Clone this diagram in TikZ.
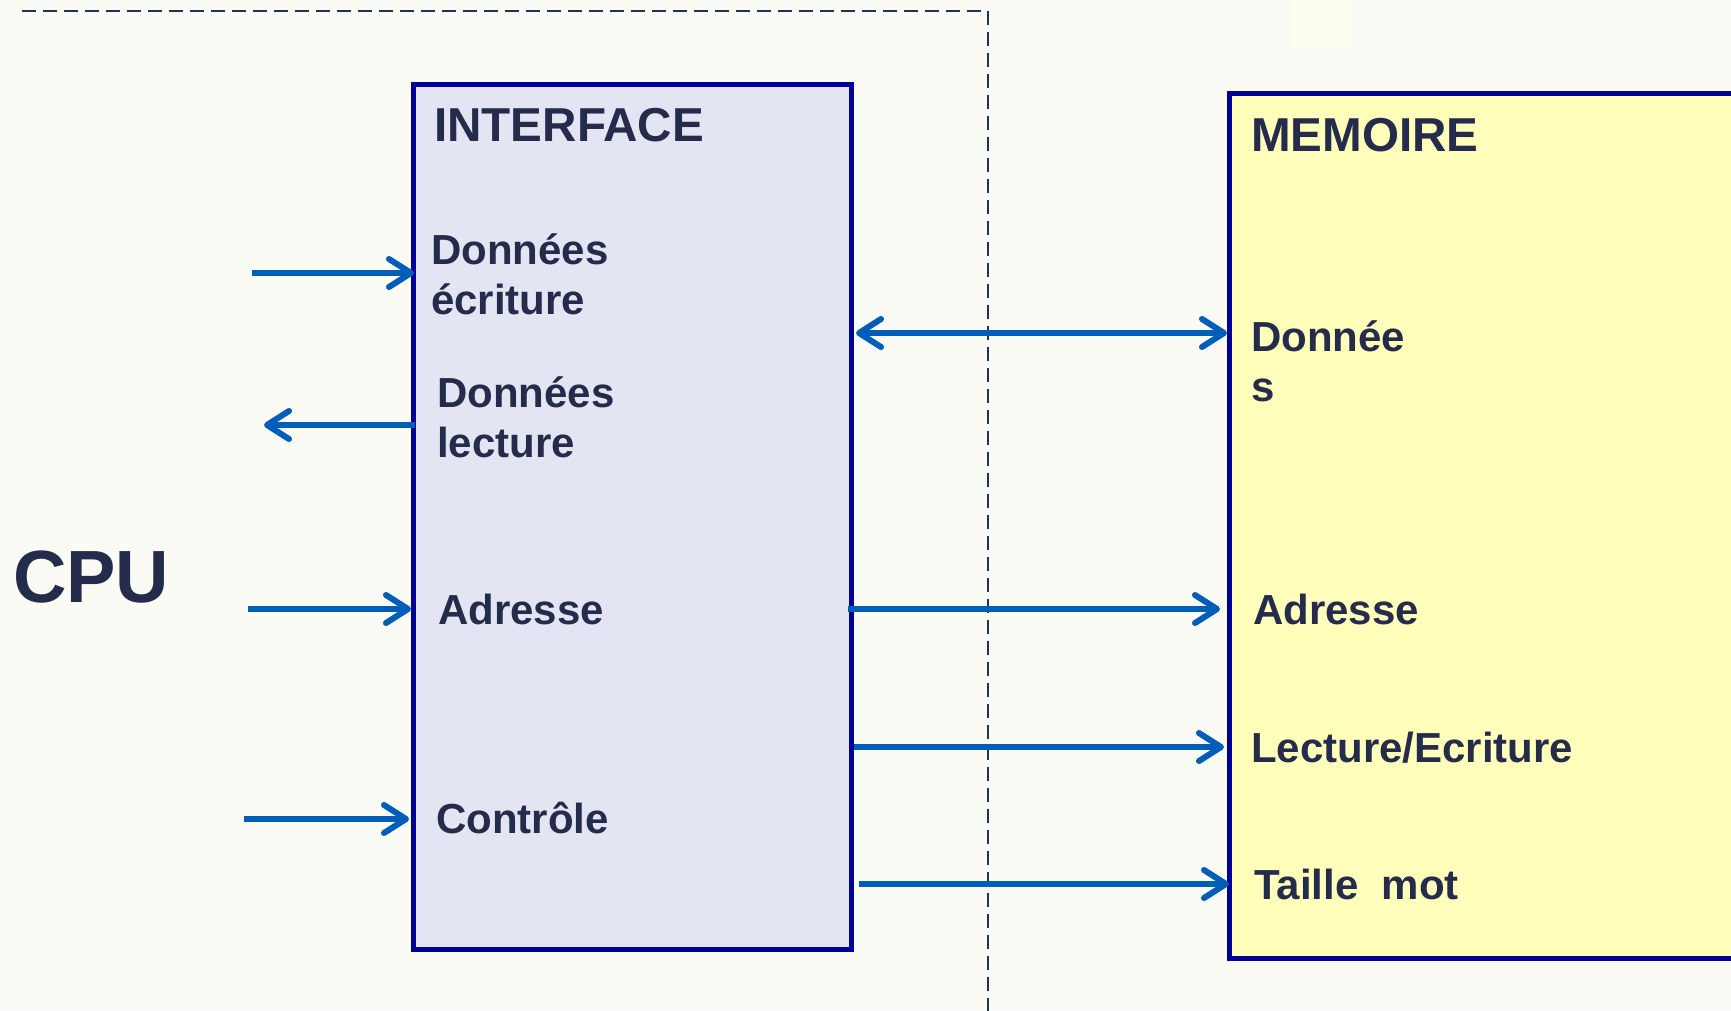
\documentclass[tikz,border=0pt]{standalone}
\usepackage{fontspec}
\setmainfont{Liberation Sans}
\usetikzlibrary{arrows.meta}

\definecolor{pagebg}{HTML}{FAFBF5}
\definecolor{ifacefill}{HTML}{E3E5F3}
\definecolor{memfill}{HTML}{FFFFBB}
\definecolor{boxedge}{HTML}{000099}
\definecolor{inktext}{HTML}{252B4A}
\definecolor{sigblue}{HTML}{005EB8}
\definecolor{rulenavy}{HTML}{1F3355}
\definecolor{creampatch}{HTML}{FEFEF0}

\tikzset{
  unitbox/.style={draw=boxedge, line width=5pt, rectangle, inner sep=0pt},
  lbl/.style={anchor=base west, inner sep=0pt, text=inktext,
              font=\fontsize{42}{50}\selectfont\bfseries, align=left},
  title/.style={anchor=base west, inner sep=0pt, text=inktext,
                font=\fontsize{47.6}{56}\selectfont\bfseries},
  sig/.style={draw=sigblue, line width=6pt,
              -{Straight Barb[length=22pt,width=28pt,round]}},
  sigboth/.style={draw=sigblue, line width=6pt,
              {Straight Barb[length=22pt,width=28pt,round]}-{Straight Barb[length=22pt,width=28pt,round]}},
  border/.style={draw=rulenavy, line width=2pt, dash pattern=on 14pt off 7pt}
}

\begin{document}
\begin{tikzpicture}[x=1pt, y=-1pt]
  % page
  \useasboundingbox (0,0) rectangle (1731,1010);
  \clip (0,0) rectangle (1731,1010);
  \fill[pagebg] (0,0) rectangle (1731,1010);
  \fill[creampatch] (1291,0) rectangle (1352,49);

  % CPU side boundary
  \coordinate (bl) at (22,11);
  \coordinate (bc) at (988,11);
  \coordinate (bb) at (988,1012);
  \draw[border] (bl) -- (bc) -- (bb);

  % the two units
  \node[unitbox, fill=ifacefill, minimum width=438pt, minimum height=865pt]
    (iface) at (632.5,517) {};
  \node[unitbox, fill=memfill, minimum width=551pt, minimum height=865pt]
    (mem) at (1505,526) {};

  % titles
  \node[title] (ifacet) at (434,141) {INTERFACE};
  \node[title] (memt) at (1251,151) {MEMOIRE};
  \node[anchor=base west, inner sep=0pt, text=inktext,
        font=\fontsize{74}{80}\selectfont\bfseries] (cpu) at (13,602) {CPU};

  % interface labels (two-line labels are placed by their last baseline)
  \node[lbl] (dw) at (431,314) {Données\\écriture};
  \node[lbl] (dr) at (437,457) {Données\\lecture};
  \node[lbl] (ia) at (438,624) {Adresse};
  \node[lbl] (ic) at (436,833) {Contrôle};

  % memory labels
  \node[lbl] (md) at (1251,401) {Donnée\\s};
  \node[lbl] (ma) at (1253,624) {Adresse};
  \node[lbl] (mrw) at (1251,762) {Lecture/Ecriture};
  \node[lbl] (mw) at (1254,899) {Taille~~mot};

  % CPU-side signals
  \coordinate (dwin) at (252,273);
  \coordinate (drout) at (264,425);
  \coordinate (adin) at (248,609);
  \coordinate (ctin) at (244,819);
  \draw[sig] (dwin) -- ([xshift=3pt]iface.west |- dwin);
  \draw[sig] ([xshift=4pt]iface.west |- drout) -- (drout);
  \draw[sig] (adin) -- (iface.west |- adin);
  \draw[sig] (ctin) -- ([xshift=-2pt]iface.west |- ctin);

  % interface to memory buses
  \coordinate (dbus) at (0,333);
  \coordinate (abus) at (0,609);
  \coordinate (rwbus) at (0,747);
  \coordinate (wbus) at (0,884);
  \draw[sigboth] ([xshift=2pt]iface.east |- dbus) -- (mem.west |- dbus);
  \draw[sig] ([xshift=-6pt]iface.east |- abus) -- ([xshift=-7pt]mem.west |- abus);
  \draw[sig] (iface.east |- rwbus) -- ([xshift=-3pt]mem.west |- rwbus);
  \draw[sig] ([xshift=5pt]iface.east |- wbus) -- ([xshift=2pt]mem.west |- wbus);
\end{tikzpicture}
\end{document}
